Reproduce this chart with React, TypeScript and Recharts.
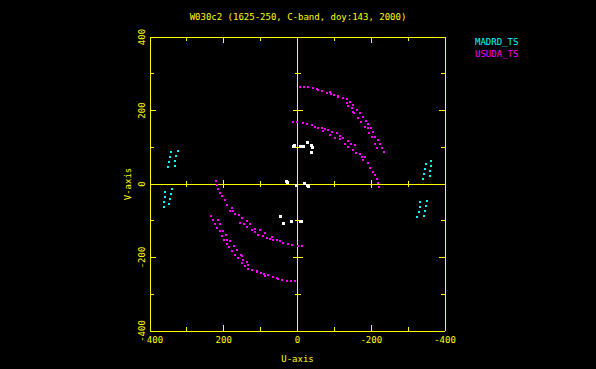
import React from 'react';
import { ScatterChart, Scatter, XAxis, YAxis, ReferenceLine, ReferenceDot, Legend } from 'recharts';

const TITLE = 'W030c2 (1625-250, C-band, doy:143, 2000)';
const X_LABEL = 'U-axis';
const Y_LABEL = 'V-axis';
const tickValues = [-400, -300, -200, -100, 0, 100, 200, 300, 400];
const majorTicks = [-400, -200, 0, 200, 400];
const minorTicks = [-300, -100, 100, 300];

const madrdPoints: number[][] = [
  [343, 88], [346, 74], [349, 59], [350, 45], [325, 91], [329, 76], [331, 63], [333, 49],
  [340, -14], [344, -27], [346, -42], [348, -54], [359, -21], [360, -35], [361, -48], [361, -62],
  [-340, 14], [-344, 27], [-346, 42], [-348, 54], [-359, 21], [-360, 35], [-361, 48], [-361, 62],
  [-343, -88], [-346, -74], [-349, -59], [-350, -45], [-325, -91], [-329, -76], [-331, -63], [-333, -49],
];

const usudaUpperOuter: number[][] = [
  [-7, 265], [-18, 265], [-29, 264], [-42, 261], [-52, 258], [-66, 253], [-88, 250], [-99, 242],
  [-109, 240], [-123, 234], [-133, 231], [-142, 223], [-151, 215], [-161, 201], [-170, 193],
  [-178, 182], [-186, 171], [-191, 163], [-199, 152], [-205, 141], [-210, 128], [-218, 120],
  [-224, 109], [-229, 98], [-235, 87],
  [-55, 256], [-79, 248], [-91, 245], [-110, 238], [-133, 220], [-136, 213], [-147, 207],
  [-151, 197], [-153, 193], [-163, 180], [-172, 169], [-183, 155], [-190, 152], [-194, 139],
  [-201, 128], [-210, 109], [-215, 98],
];

const usudaUpperInner: number[][] = [
  [13, 169], [1, 169], [-14, 166], [-25, 163], [-39, 160], [-48, 156], [-56, 153], [-66, 152],
  [-75, 150], [-83, 147], [-93, 142], [-106, 139], [-115, 131], [-123, 126], [-137, 118],
  [-144, 108], [-156, 106], [-170, 82], [-183, 74], [-191, 57], [-205, 33], [-215, 14], [-221, -8],
  [-69, 144], [-88, 133], [-102, 125], [-115, 122], [-129, 109], [-137, 102], [-151, 93],
  [-159, 84], [-174, 74], [-178, 65], [-197, 44], [-210, 25], [-218, 3],
];

const usudaLowerOuter: number[][] = [
  [7, -265], [18, -265], [29, -264], [42, -261], [52, -258], [66, -253], [88, -250], [99, -242],
  [109, -240], [123, -234], [133, -231], [142, -223], [151, -215], [161, -201], [170, -193],
  [178, -182], [186, -171], [191, -163], [199, -152], [205, -141], [210, -128], [218, -120],
  [224, -109], [229, -98], [235, -87],
  [55, -256], [79, -248], [91, -245], [110, -238], [133, -220], [136, -213], [147, -207],
  [151, -197], [153, -193], [163, -180], [172, -169], [183, -155], [190, -152], [194, -139],
  [201, -128], [210, -109], [215, -98],
];

const usudaLowerInner: number[][] = [
  [-13, -169], [-1, -169], [14, -166], [25, -163], [39, -160], [48, -156], [56, -153], [66, -152],
  [75, -150], [83, -147], [93, -142], [106, -139], [115, -131], [123, -126], [137, -118],
  [144, -108], [156, -106], [170, -82], [183, -74], [191, -57], [205, -33], [215, -14], [221, 8],
  [69, -144], [88, -133], [102, -125], [115, -122], [129, -109], [137, -102], [151, -93],
  [159, -84], [174, -74], [178, -65], [197, -44], [210, -25], [218, -3],
];

const otherPoints: number[][] = [
  [12, 103], [7, 106], [-7, 101], [-15, 101], [-28, 112], [-37, 106], [-42, 98], [-39, 87],
  [47, -89], [39, -107], [16, -103], [-7, -103], [-12, -103],
  [29, 6], [26, 3], [2, -3], [-20, 2], [-29, -7], [-26, -3],
];

const toData = (pts: number[][]) => pts.map(([u, v]) => ({ u, v }));
const madrdData = toData(madrdPoints);
const usudaData = toData([...usudaUpperOuter, ...usudaUpperInner, ...usudaLowerOuter, ...usudaLowerInner]);
const otherData = toData(otherPoints);

const YELLOW = '#ffff00';
const CYAN = '#00ffff';
const MAGENTA = '#ff00ff';
const FONT = '"DejaVu Sans Mono", monospace';

const tickLen = (v: number) => (majorTicks.includes(v) ? 6 : 4);

const BottomTick = (props: any) => {
  const { x, y, payload } = props;
  const v = payload.value;
  const len = tickLen(v);
  const isMajor = majorTicks.includes(v);
  return (
    <g>
      <line x1={x} y1={y} x2={x} y2={y - len} stroke={YELLOW} strokeWidth={1} shapeRendering="crispEdges" />
      {isMajor && (
        <text x={v === 400 ? x + 5 : x} y={y + 12} textAnchor="middle" fill={YELLOW} fontSize={9} fontFamily={FONT}>
          {v}
        </text>
      )}
    </g>
  );
};

const TopTick = (props: any) => {
  const { x, y, payload } = props;
  const len = tickLen(payload.value);
  return <line x1={x} y1={y} x2={x} y2={y + len} stroke={YELLOW} strokeWidth={1} shapeRendering="crispEdges" />;
};

const LeftTick = (props: any) => {
  const { x, y, payload } = props;
  const v = payload.value;
  const len = tickLen(v);
  const isMajor = majorTicks.includes(v);
  const tx = x - 5;
  return (
    <g>
      <line x1={x} y1={y} x2={x + len} y2={y} stroke={YELLOW} strokeWidth={1} shapeRendering="crispEdges" />
      {isMajor && (
        <text x={tx} y={y} transform={`rotate(-90, ${tx}, ${y})`} textAnchor="middle" fill={YELLOW} fontSize={9} fontFamily={FONT}>
          {v}
        </text>
      )}
    </g>
  );
};

const RightTick = (props: any) => {
  const { x, y, payload } = props;
  const len = tickLen(payload.value);
  return <line x1={x} y1={y} x2={x - len} y2={y} stroke={YELLOW} strokeWidth={1} shapeRendering="crispEdges" />;
};

const hTickShape = (half: number) => (p: any) => (
  <line x1={p.cx - half} y1={p.cy} x2={p.cx + half} y2={p.cy} stroke={YELLOW} strokeWidth={1} shapeRendering="crispEdges" />
);
const vTickShape = (half: number) => (p: any) => (
  <line x1={p.cx} y1={p.cy - half} x2={p.cx} y2={p.cy + half} stroke={YELLOW} strokeWidth={1} shapeRendering="crispEdges" />
);

const dotShape = (color: string, w: number, h: number) => (p: any) => (
  <rect x={Math.round(p.cx - w / 2)} y={Math.round(p.cy - h / 2)} width={w} height={h} fill={color} />
);

const renderLegend = (props: any) => {
  const items = (props.payload || []).filter((e: any) => e.value === 'MADRD_TS' || e.value === 'USUDA_TS');
  return (
    <div style={{ fontFamily: FONT, fontSize: 9, lineHeight: '12px' }}>
      {items.map((e: any) => (
        <div key={e.value} style={{ color: e.color }}>{e.value}</div>
      ))}
    </div>
  );
};

const XLabel = (props: any) => {
  const vb = props.viewBox || {};
  return (
    <text x={vb.x + vb.width / 2} y={vb.y + 31} textAnchor="middle" fill={YELLOW} fontSize={9} fontFamily={FONT}>
      {X_LABEL}
    </text>
  );
};

const YLabel = (props: any) => {
  const vb = props.viewBox || {};
  const tx = 131;
  const ty = vb.y + vb.height / 2;
  return (
    <text x={tx} y={ty} transform={`rotate(-90, ${tx}, ${ty})`} textAnchor="middle" fill={YELLOW} fontSize={9} fontFamily={FONT}>
      {Y_LABEL}
    </text>
  );
};

const axisLineStyle = { stroke: YELLOW, strokeWidth: 1, shapeRendering: 'crispEdges' };

export default function App() {
  return (
    <div style={{ position: 'absolute', left: 0, top: 0, width: 596, height: 369, background: '#000' }}>
      <div
        style={{
          position: 'absolute', left: 0, top: 12, width: 596, textAlign: 'center',
          color: YELLOW, fontFamily: FONT, fontSize: 9, lineHeight: '10px', whiteSpace: 'pre',
        }}
      >
        {TITLE}
      </div>
      <ScatterChart width={596} height={369} margin={{ top: 0, right: 0, bottom: 0, left: 0 }}>
        <XAxis
          xAxisId="bottom" type="number" dataKey="u" domain={[-400, 400]} reversed allowDataOverflow
          ticks={tickValues} orientation="bottom" height={38} axisLine={axisLineStyle}
          tickLine={false} tickSize={0} tickMargin={0} tick={<BottomTick />} interval={0}
          label={<XLabel />}
        />
        <XAxis
          xAxisId="top" type="number" dataKey="u" domain={[-400, 400]} reversed allowDataOverflow
          ticks={tickValues} orientation="top" height={37} axisLine={axisLineStyle}
          tickLine={false} tickSize={0} tickMargin={0} tick={<TopTick />} interval={0}
        />
        <YAxis
          yAxisId="left" type="number" dataKey="v" domain={[-400, 400]} allowDataOverflow
          ticks={tickValues} orientation="left" width={150} axisLine={axisLineStyle}
          tickLine={false} tickSize={0} tickMargin={0} tick={<LeftTick />} interval={0}
          label={<YLabel />}
        />
        <YAxis
          yAxisId="right" type="number" dataKey="v" domain={[-400, 400]} allowDataOverflow
          ticks={tickValues} orientation="right" width={151} axisLine={axisLineStyle}
          tickLine={false} tickSize={0} tickMargin={0} tick={<RightTick />} interval={0}
        />
        <ReferenceLine xAxisId="bottom" yAxisId="left" x={0} stroke={YELLOW} strokeOpacity={1} strokeWidth={1} shapeRendering="crispEdges" />
        <ReferenceLine xAxisId="bottom" yAxisId="left" y={0} stroke={YELLOW} strokeOpacity={1} strokeWidth={1} shapeRendering="crispEdges" />
        {majorTicks.map((t) => (
          <ReferenceDot key={`vmaj${t}`} xAxisId="bottom" yAxisId="left" x={0} y={t} shape={hTickShape(5)} />
        ))}
        {minorTicks.map((t) => (
          <ReferenceDot key={`vmin${t}`} xAxisId="bottom" yAxisId="left" x={0} y={t} shape={hTickShape(3)} />
        ))}
        {majorTicks.map((t) => (
          <ReferenceDot key={`hmaj${t}`} xAxisId="bottom" yAxisId="left" x={t} y={0} shape={vTickShape(4)} />
        ))}
        {minorTicks.map((t) => (
          <ReferenceDot key={`hmin${t}`} xAxisId="bottom" yAxisId="left" x={t} y={0} shape={vTickShape(3)} />
        ))}
        <Scatter
          name="MADRD_TS" xAxisId="bottom" yAxisId="left" data={madrdData} fill={CYAN}
          shape={dotShape(CYAN, 2, 2)} isAnimationActive={false}
        />
        <Scatter
          name="USUDA_TS" xAxisId="bottom" yAxisId="left" data={usudaData} fill={MAGENTA}
          shape={dotShape(MAGENTA, 2, 2)} isAnimationActive={false}
        />
        <Scatter
          name="other" xAxisId="bottom" yAxisId="left" data={otherData} fill="#ffffff" legendType="none"
          shape={dotShape('#ffffff', 3, 3)} isAnimationActive={false}
        />
        <Legend
          layout="vertical" align="center" verticalAlign="middle" content={renderLegend}
          wrapperStyle={{ left: 475, top: 36, width: 'auto', height: 'auto' }}
        />
      </ScatterChart>
    </div>
  );
}
